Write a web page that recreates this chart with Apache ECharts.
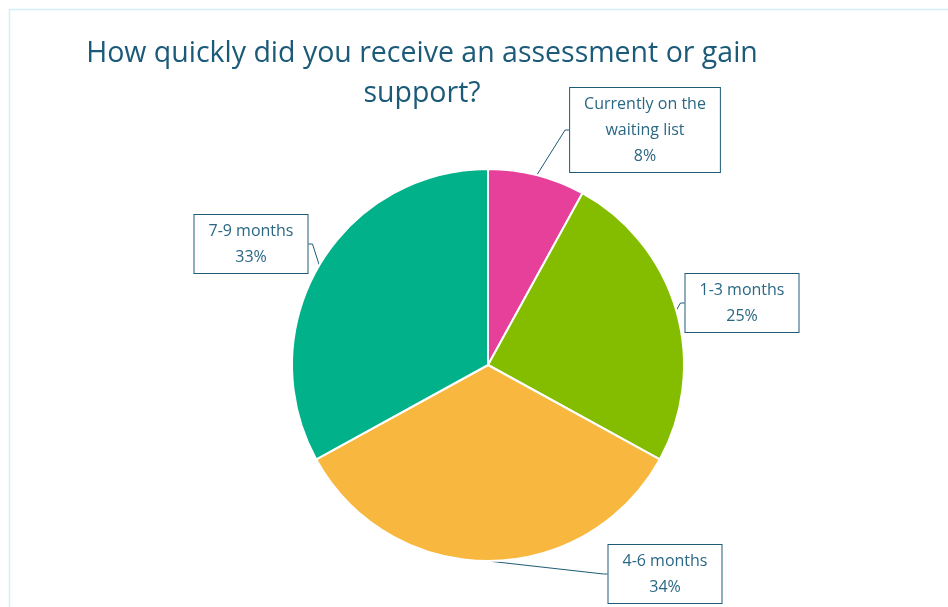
<!DOCTYPE html>
<html>
<head>
<meta charset="utf-8">
<script src="https://cdn.jsdelivr.net/npm/echarts@6/dist/echarts.min.js"></script>
<style>
  html, body { margin: 0; padding: 0; background: #ffffff; }
  #chart { width: 948px; height: 607px; }
</style>
</head>
<body>
<div id="chart"></div>
<script>
// Survey responses: time taken to receive an assessment or support
const categories = ['Currently on the\nwaiting list', '1-3 months', '4-6 months', '7-9 months'];
const percentages = [8, 25, 34, 33];
const sliceColors = ['#E7409A', '#84BD00', '#F8B840', '#00B189'];

const titleText = 'How quickly did you receive an assessment or gain\nsupport?';

// Where each callout box sits (box centre, in pixels)
const calloutCentres = [
  [645, 130],
  [742, 303],
  [665, 574],
  [251, 244]
];

const ink = '#1E5B76';
const fontFamily = '"Open Sans", "Noto Sans", sans-serif';

const chart = echarts.init(document.getElementById('chart'), null, { renderer: 'canvas' });

chart.setOption({
  backgroundColor: '#ffffff',
  animation: false,
  title: {
    text: titleText,
    left: 417,
    top: 29,
    textAlign: 'center',
    textStyle: {
      color: '#1B5A78',
      fontFamily: fontFamily,
      fontSize: 28.5,
      fontWeight: 'normal',
      lineHeight: 40
    }
  },
  graphic: [{
    type: 'rect',
    shape: { x: 9.5, y: 9.5, width: 960, height: 620 },
    style: { fill: 'none', stroke: '#D3EEF7', lineWidth: 1.5 },
    silent: true,
    z: -1
  }],
  series: [{
    type: 'pie',
    center: [488, 365],
    radius: 196,
    startAngle: 90,
    clockwise: true,
    avoidLabelOverlap: false,
    itemStyle: { borderColor: '#ffffff', borderWidth: 2 },
    data: categories.map((name, i) => ({
      name: name,
      value: percentages[i],
      itemStyle: { color: sliceColors[i] }
    })),
    label: {
      show: true,
      position: 'outside',
      formatter: p => p.name + '\n' + p.value + '%',
      color: '#2A6784',
      fontFamily: fontFamily,
      fontSize: 16,
      lineHeight: 26,
      align: 'center',
      backgroundColor: '#ffffff',
      borderColor: ink,
      borderWidth: 1,
      padding: [3, 14]
    },
    labelLine: {
      show: true,
      length: 8,
      length2: 4,
      lineStyle: { color: ink, width: 1 }
    },
    labelLayout: params => {
      const c = calloutCentres[params.dataIndex];
      return {
        x: c[0],
        y: c[1],
        align: 'center',
        verticalAlign: 'middle'
      };
    }
  }]
});
</script>
</body>
</html>
